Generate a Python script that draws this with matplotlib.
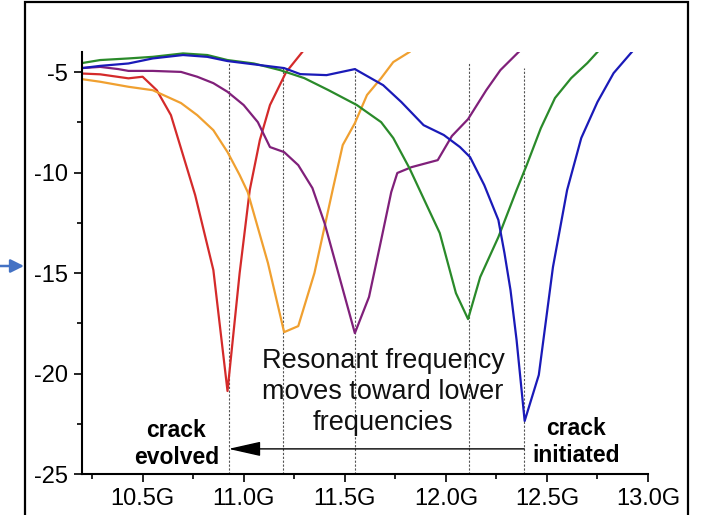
import numpy as np
import matplotlib
matplotlib.use("Agg")
import matplotlib.pyplot as plt
from matplotlib.patches import Rectangle, FancyArrowPatch
from matplotlib.ticker import FormatStrFormatter, MultipleLocator

plt.rcParams['font.family'] = ['Liberation Sans', 'DejaVu Sans']
plt.rcParams['axes.unicode_minus'] = False

# S11 sweeps (frequency in GHz, return loss in dB), one per crack stage
f_red = [10.20, 10.29, 10.43, 10.50, 10.57, 10.64, 10.70, 10.76, 10.85, 10.92,
         10.98, 11.03, 11.08, 11.13, 11.21, 11.29]
s_red = [-5.07, -5.11, -5.31, -5.23, -5.90, -7.14, -9.13, -11.12, -14.85, -20.87,
         -15.0, -10.87, -8.38, -6.64, -5.0, -4.0]

f_orange = [10.20, 10.29, 10.43, 10.55, 10.69, 10.77, 10.85, 10.92, 10.98, 11.02,
            11.12, 11.20, 11.27, 11.35, 11.44, 11.49, 11.55, 11.61, 11.68, 11.74, 11.82]
s_orange = [-5.35, -5.48, -5.73, -5.90, -6.54, -7.14, -7.89, -8.98, -10.12, -10.97,
            -14.50, -17.94, -17.64, -15.0, -10.87, -8.63, -7.54, -6.14, -5.30, -4.50, -4.0]

f_purple = [10.20, 10.29, 10.38, 10.43, 10.55, 10.69, 10.77, 10.85, 10.92, 11.00,
            11.07, 11.13, 11.20, 11.27, 11.34, 11.40, 11.46, 11.55, 11.62, 11.68,
            11.73, 11.76, 11.83, 11.96, 12.03, 12.11, 12.20, 12.27, 12.36]
s_purple = [-4.80, -4.74, -4.85, -4.94, -4.94, -4.99, -5.23, -5.55, -5.98, -6.64,
            -7.49, -8.73, -8.98, -9.63, -10.77, -12.51, -14.70, -17.99, -16.19, -13.36,
            -10.97, -10.02, -9.73, -9.38, -8.18, -7.34, -5.90, -4.90, -4.0]

f_green = [10.20, 10.29, 10.43, 10.55, 10.70, 10.82, 10.92, 11.05, 11.18, 11.30,
           11.42, 11.56, 11.68, 11.74, 11.82, 11.91, 11.97, 12.05, 12.11, 12.17,
           12.26, 12.35, 12.40, 12.47, 12.54, 12.62, 12.70, 12.75]
s_green = [-4.55, -4.40, -4.32, -4.24, -4.07, -4.15, -4.40, -4.57, -4.90, -5.30,
           -5.90, -6.64, -7.49, -8.28, -9.78, -11.72, -13.01, -16.0, -17.29, -15.2,
           -13.21, -10.87, -9.63, -7.79, -6.29, -5.30, -4.55, -4.0]

f_blue = [10.20, 10.29, 10.43, 10.55, 10.70, 10.82, 10.92, 11.20, 11.28, 11.41,
          11.55, 11.69, 11.78, 11.89, 11.99, 12.07, 12.12, 12.19, 12.26, 12.29,
          12.32, 12.35, 12.39, 12.46, 12.53, 12.60, 12.67, 12.75, 12.83, 12.92]
s_blue = [-4.80, -4.69, -4.57, -4.32, -4.15, -4.24, -4.45, -4.80, -5.10, -5.15,
          -4.85, -5.65, -6.49, -7.64, -8.13, -8.73, -9.23, -10.62, -12.36, -14.0,
          -15.85, -18.33, -22.36, -20.07, -14.70, -10.87, -8.28, -6.49, -5.05, -4.0]

# resonance markers (frequency, top of dashed guide)
res_freq = [10.925, 11.196, 11.551, 12.115, 12.388]
res_top = [-4.55, -4.75, -4.8, -4.5, -4.8]

fig = plt.figure(figsize=(7.06, 5.15), dpi=100)
ax = fig.add_axes([0.1161, 0.0796, 0.8017, 0.8194])

for x, top in zip(res_freq, res_top):
    ax.plot([x, x], [-25, top], color='#555555', lw=0.8, ls=(0, (2, 1.5)), zorder=1)

ax.plot(f_red, s_red, color='#d42a2a', lw=1.6)
ax.plot(f_orange, s_orange, color='#f0a030', lw=1.6)
ax.plot(f_purple, s_purple, color='#80207a', lw=1.6)
ax.plot(f_green, s_green, color='#2a8a2a', lw=1.6)
ax.plot(f_blue, s_blue, color='#1a1ab8', lw=1.6)

ax.set_xlim(10.2, 13.0)
ax.set_ylim(-25, -4)
ax.spines['top'].set_visible(False)
ax.spines['right'].set_visible(False)
ax.spines['left'].set_linewidth(1.5)
ax.spines['bottom'].set_linewidth(1.5)

ax.xaxis.set_major_locator(MultipleLocator(0.5))
ax.xaxis.set_minor_locator(MultipleLocator(0.25))
ax.xaxis.set_major_formatter(FormatStrFormatter('%.1fG'))
ax.yaxis.set_major_locator(MultipleLocator(5))
ax.yaxis.set_minor_locator(MultipleLocator(2.5))
ax.tick_params(which='major', length=6, width=1.2, labelsize=17, pad=4)
ax.tick_params(which='minor', length=3.5, width=1.2)
ax.set_xticks([10.5, 11.0, 11.5, 12.0, 12.5, 13.0])

ax.text(11.69, -20.9, "Resonant frequency\nmoves toward lower\nfrequencies",
        ha='center', va='center', fontsize=19.5, linespacing=1.25, color='#111111')
ax.text(10.667, -23.5, "crack\nevolved", ha='center', va='center',
        fontsize=16.5, fontweight='bold', linespacing=1.2)
ax.text(12.645, -23.4, "crack\ninitiated", ha='center', va='center',
        fontsize=16.5, fontweight='bold', linespacing=1.2)
ax.annotate('', xy=(10.925, -23.75), xytext=(12.388, -23.75),
            arrowprops=dict(arrowstyle='-|>,head_length=2.0,head_width=0.45',
                            mutation_scale=10, lw=1.0, color='black',
                            shrinkA=0, shrinkB=0))

# outer frame and side pointer
fig.patches.append(Rectangle((25 / 706, -0.05), (688 - 25) / 706, 1.05 - 2 / 515,
                             transform=fig.transFigure, fill=False,
                             edgecolor='black', lw=1.6))
fig.patches.append(FancyArrowPatch((0.0, 1 - 266 / 515), (24 / 706, 1 - 266 / 515),
                                   transform=fig.transFigure,
                                   arrowstyle='-|>,head_length=8,head_width=4',
                                   mutation_scale=1, lw=1.8, color='#4472c4',
                                   shrinkA=0, shrinkB=0))

fig.savefig('out.png', dpi=100)
